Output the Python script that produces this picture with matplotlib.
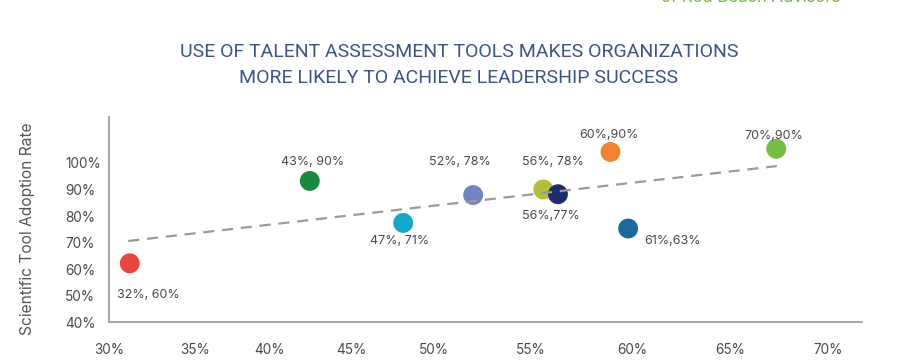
import numpy as np
import matplotlib
matplotlib.use("Agg")
import matplotlib.pyplot as plt

# ---- data ----
labels = ["32%, 60%", "43%, 90%", "47%, 71%", "52%, 78%", "56%, 78%",
          "56%,77%", "60%,90%", "61%,63%", "70%,90%"]
x_vals = [31.21, 42.48, 48.15, 52.03, 55.62, 56.34, 58.92, 59.79, 67.35]
y_vals = [62.2, 93.2, 77.4, 87.9, 90.0, 88.2, 104.1, 75.3, 105.3]
colors = ["#E8473F", "#19893F", "#16A7CB", "#7384C1", "#B2BD3B",
          "#1E2C6C", "#F28333", "#1A6A9B", "#77BD44"]
trend_x = [31.12, 67.38]
trend_y = [70.6, 98.8]
x_ticks = [30, 35, 40, 45, 50, 55, 60, 65, 70]
x_tick_labels = ["30%", "35%", "40%", "45%", "50%", "55%", "60%", "65%", "70%"]
y_ticks = [40, 50, 60, 70, 80, 90, 100]
y_tick_labels = ["40%", "50%", "60%", "70%", "80%", "90%", "100%"]

# ---- layout (tick spacing of the original is uneven) ----
knot_vals = np.array([25, 30, 35, 40, 45, 50, 55, 60, 65, 70, 75], float)
knot_disp = np.array([21.5, 107.5, 193.5, 268, 350, 433, 530, 632, 730, 828, 926], float)
label_offsets_px = [(18.4, -31.7), (3, 19), (-3.3, -18), (-13.3, 33.3), (9.6, 27.6),
                    (-7.3, -21.7), (-1.7, 16.7), (44.6, -12.7), (-2.7, 13)]

def fwd(v):
    return np.interp(v, knot_vals, knot_disp)

def inv(d):
    return np.interp(d, knot_disp, knot_vals)

plt.rcParams['font.family'] = ['Inter', 'DejaVu Sans']
W, H = 915, 361
fig = plt.figure(figsize=(W / 100, H / 100), dpi=100)
ax = fig.add_axes([109 / W, (H - 322.3) / H, (862 - 109) / W, (322.3 - 116.7) / H])

ax.set_xscale('function', functions=(fwd, inv))
ax.set_xlim(inv(109), inv(862))
ax.set_ylim(40, 40 + (322.3 - 116.7) / 2.657)

ax.plot(trend_x, trend_y, linestyle=(0, (5, 3.5)), color="#9A9A9A", lw=1.6, zorder=3)
ax.scatter(x_vals, y_vals, s=205, c=colors, edgecolors='none', zorder=2)

text_col = "#4A4A4A"
for lab, x, y, (dx, dy) in zip(labels, x_vals, y_vals, label_offsets_px):
    ax.annotate(lab, (x, y), xytext=(dx * 0.72, dy * 0.72), textcoords='offset points',
                ha='center', va='center', fontsize=9, color=text_col)

ax.set_xticks(x_ticks)
ax.set_xticklabels(x_tick_labels)
ax.set_yticks(y_ticks)
ax.set_yticklabels(y_tick_labels)
ax.minorticks_off()
ax.tick_params(axis='x', length=0, pad=15, labelsize=9.8, labelcolor=text_col)
ax.tick_params(axis='y', length=0, pad=31.5, labelsize=9.8, labelcolor=text_col)
for t in ax.get_yticklabels():
    t.set_ha('left')

for s in ['top', 'right']:
    ax.spines[s].set_visible(False)
for s in ['left', 'bottom']:
    ax.spines[s].set_color('#9E9E9E')
    ax.spines[s].set_linewidth(1.3)

ax.set_ylabel("Scientific Tool Adoption Rate", fontsize=11.2, color="#555555",
              va='center', ha='center')
ax.yaxis.set_label_coords((28 - 109) / 753, (322.3 - 229) / 205.6)

title_col = "#3E5482"
fig.text(459 / W, 1 - 52 / H, "USE OF TALENT ASSESSMENT TOOLS MAKES ORGANIZATIONS",
         ha='center', va='center', fontsize=14, color=title_col, family=['Roboto', 'DejaVu Sans'])
fig.text(459 / W, 1 - 78 / H, "MORE LIKELY TO ACHIEVE LEADERSHIP SUCCESS",
         ha='center', va='center', fontsize=14, color=title_col, family=['Roboto', 'DejaVu Sans'])

fig.text(840 / W, 1 - 2.5 / H, "of Red Beach Advisors", ha='right', va='baseline',
         fontsize=12, color="#7AB648")

fig.savefig("out.png", dpi=100, facecolor='white')
